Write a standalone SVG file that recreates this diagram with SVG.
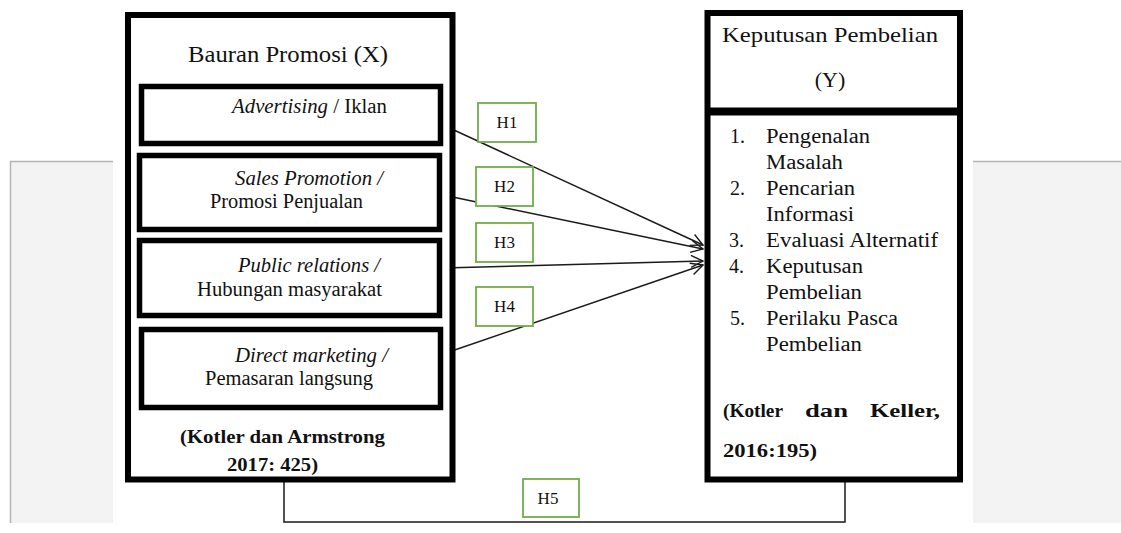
<svg xmlns="http://www.w3.org/2000/svg" width="1121" height="533" viewBox="0 0 1121 533">
<style>
.bg{fill:#f3f3f3}
.bl{stroke:#b4b4b4;stroke-width:1.5;fill:none}
.box{fill:#fff;stroke:#000}
.hb{fill:#fff;stroke:#70ad47;stroke-width:1.8}
.con{stroke:#1a1a1a;stroke-width:1.5;fill:none}
</style>
<defs>
<marker id="arr" viewBox="0 0 14 14" refX="13" refY="7" markerWidth="14" markerHeight="14" markerUnits="userSpaceOnUse" orient="auto">
<path d="M1 1 L13 7 L1 13" fill="none" stroke="#1a1a1a" stroke-width="1.4"/>
</marker>
</defs>
<rect width="1121" height="533" fill="#fff"/>
<g id="page-bg">
<rect class="bg" x="10" y="161" width="103" height="362"/>
<rect class="bg" x="973" y="161" width="148" height="362"/>
<path class="bl" d="M10.5 523 V161.5 H113"/>
<path class="bl" d="M973 161.5 H1121"/>
</g>
<g id="connectors">
<line class="con" x1="443" y1="125" x2="703" y2="245" marker-end="url(#arr)"/>
<line class="con" x1="443" y1="195" x2="703" y2="249" marker-end="url(#arr)"/>
<line class="con" x1="443" y1="268" x2="703" y2="261" marker-end="url(#arr)"/>
<line class="con" x1="443" y1="354" x2="703" y2="265" marker-end="url(#arr)"/>
<path class="con" d="M284 482 V522 H845 V482"/>
</g>
<g id="node-x">
<rect class="box" x="128" y="15" width="324.5" height="464.5" stroke-width="6"/>
<text font-family="Liberation Serif" font-size="23" fill="#111" x="188" y="62" textLength="200" lengthAdjust="spacingAndGlyphs">Bauran Promosi (X)</text>
<text font-family="Liberation Serif" font-size="19" font-weight="bold" fill="#111" x="180" y="443" textLength="205" lengthAdjust="spacingAndGlyphs">(Kotler dan Armstrong</text>
<text font-family="Liberation Serif" font-size="19" font-weight="bold" fill="#111" x="227" y="471" textLength="91" lengthAdjust="spacingAndGlyphs">2017: 425)</text>
</g>
<g id="node-advertising">
<rect class="box" x="141.5" y="86.5" width="299" height="57" stroke-width="5.5"/>
<text font-family="Liberation Serif" font-size="20" fill="#111" x="232" y="113" textLength="155" lengthAdjust="spacingAndGlyphs"><tspan font-style="italic">Advertising</tspan> / Iklan</text>
</g>
<g id="node-sales">
<rect class="box" x="139.5" y="155.5" width="300" height="74" stroke-width="5.5"/>
<text font-family="Liberation Serif" font-size="20" font-style="italic" fill="#111" x="235" y="185" textLength="148" lengthAdjust="spacingAndGlyphs">Sales Promotion /</text>
<text font-family="Liberation Serif" font-size="20" fill="#111" x="210" y="208" textLength="153" lengthAdjust="spacingAndGlyphs">Promosi Penjualan</text>
</g>
<g id="node-public">
<rect class="box" x="139.5" y="240.5" width="300" height="75" stroke-width="5.5"/>
<text font-family="Liberation Serif" font-size="20" font-style="italic" fill="#111" x="238" y="272" textLength="142" lengthAdjust="spacingAndGlyphs">Public relations /</text>
<text font-family="Liberation Serif" font-size="20" fill="#111" x="197" y="296" textLength="185" lengthAdjust="spacingAndGlyphs">Hubungan masyarakat</text>
</g>
<g id="node-direct">
<rect class="box" x="141.5" y="329.5" width="299" height="78" stroke-width="5.5"/>
<text font-family="Liberation Serif" font-size="20" font-style="italic" fill="#111" x="235" y="362" textLength="153" lengthAdjust="spacingAndGlyphs">Direct marketing /</text>
<text font-family="Liberation Serif" font-size="20" fill="#111" x="205" y="385" textLength="168" lengthAdjust="spacingAndGlyphs">Pemasaran langsung</text>
</g>
<g id="node-y">
<rect class="box" x="707.5" y="13" width="252.5" height="466.5" stroke-width="6"/>
<line x1="707.5" y1="111.5" x2="960" y2="111.5" stroke="#000" stroke-width="8"/>
<text font-family="Liberation Serif" font-size="22" fill="#111" x="722" y="42" textLength="216" lengthAdjust="spacingAndGlyphs">Keputusan Pembelian</text>
<text font-family="Liberation Serif" font-size="22" fill="#111" x="830" y="87" text-anchor="middle">(Y)</text>
<text font-family="Liberation Serif" font-size="20" fill="#111" x="730" y="143">1.</text>
<text font-family="Liberation Serif" font-size="20" fill="#111" x="766" y="143" textLength="104" lengthAdjust="spacingAndGlyphs">Pengenalan</text>
<text font-family="Liberation Serif" font-size="20" fill="#111" x="766" y="169" textLength="77" lengthAdjust="spacingAndGlyphs">Masalah</text>
<text font-family="Liberation Serif" font-size="20" fill="#111" x="730" y="195">2.</text>
<text font-family="Liberation Serif" font-size="20" fill="#111" x="766" y="195" textLength="89" lengthAdjust="spacingAndGlyphs">Pencarian</text>
<text font-family="Liberation Serif" font-size="20" fill="#111" x="766" y="221" textLength="88" lengthAdjust="spacingAndGlyphs">Informasi</text>
<text font-family="Liberation Serif" font-size="20" fill="#111" x="729" y="247">3.</text>
<text font-family="Liberation Serif" font-size="20" fill="#111" x="766" y="247" textLength="172" lengthAdjust="spacingAndGlyphs">Evaluasi Alternatif</text>
<text font-family="Liberation Serif" font-size="20" fill="#111" x="729" y="273">4.</text>
<text font-family="Liberation Serif" font-size="20" fill="#111" x="766" y="273" textLength="97" lengthAdjust="spacingAndGlyphs">Keputusan</text>
<text font-family="Liberation Serif" font-size="20" fill="#111" x="766" y="299" textLength="96" lengthAdjust="spacingAndGlyphs">Pembelian</text>
<text font-family="Liberation Serif" font-size="20" fill="#111" x="730" y="325">5.</text>
<text font-family="Liberation Serif" font-size="20" fill="#111" x="766" y="325" textLength="132" lengthAdjust="spacingAndGlyphs">Perilaku Pasca</text>
<text font-family="Liberation Serif" font-size="20" fill="#111" x="766" y="351" textLength="96" lengthAdjust="spacingAndGlyphs">Pembelian</text>
<text font-family="Liberation Serif" font-size="19" font-weight="bold" fill="#111" x="723" y="417" textLength="60" lengthAdjust="spacingAndGlyphs">(Kotler</text>
<text font-family="Liberation Serif" font-size="19" font-weight="bold" fill="#111" x="805" y="417" textLength="43" lengthAdjust="spacingAndGlyphs">dan</text>
<text font-family="Liberation Serif" font-size="19" font-weight="bold" fill="#111" x="870" y="417" textLength="70" lengthAdjust="spacingAndGlyphs">Keller,</text>
<text font-family="Liberation Serif" font-size="19" font-weight="bold" fill="#111" x="723" y="457" textLength="94" lengthAdjust="spacingAndGlyphs">2016:195)</text>
</g>
<g id="label-h1">
<rect class="hb" x="478" y="103" width="58" height="39"/>
<text font-family="Liberation Serif" font-size="17" fill="#111" x="507" y="128" text-anchor="middle">H1</text>
</g>
<g id="label-h2">
<rect class="hb" x="476" y="167" width="57" height="39"/>
<text font-family="Liberation Serif" font-size="17" fill="#111" x="504.5" y="192" text-anchor="middle">H2</text>
</g>
<g id="label-h3">
<rect class="hb" x="476" y="223" width="57" height="39"/>
<text font-family="Liberation Serif" font-size="17" fill="#111" x="504.5" y="248" text-anchor="middle">H3</text>
</g>
<g id="label-h4">
<rect class="hb" x="476" y="287" width="57" height="39"/>
<text font-family="Liberation Serif" font-size="17" fill="#111" x="504.5" y="312" text-anchor="middle">H4</text>
</g>
<g id="label-h5">
<rect class="hb" x="523" y="479" width="56" height="38"/>
<text font-family="Liberation Serif" font-size="17" fill="#111" x="548" y="504" text-anchor="middle">H5</text>
</g>
</svg>
